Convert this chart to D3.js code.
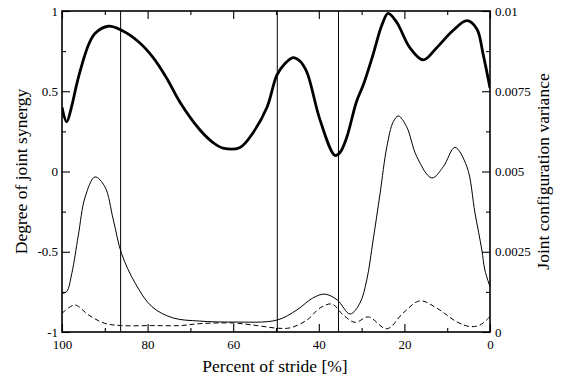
<!DOCTYPE html>
<html>
<head>
<meta charset="utf-8">
<script src="https://cdn.jsdelivr.net/npm/d3@7"></script>
<style>
  body { margin: 0; background: #fff; }
  svg text { font-family: "Liberation Serif", "Times New Roman", Times, "DejaVu Serif", "Noto Serif", serif; }
</style>
</head>
<body>
<svg id="chart" width="569" height="382"></svg>
<script>
// stride values [%] and degree of joint synergy (left axis)
const synergyStride = [100, 98.9, 97.7, 96.6, 95.4, 93.8, 92.3, 89.2, 86.1, 82.2, 78.7, 75.5, 72.4, 67.8, 64.7, 62.4,
  58.4, 55.4, 52.1, 49.8, 48.0, 46.0, 44.5, 42.8, 39.7, 36.2, 35.0, 33.5, 31.2, 29.6, 27.3, 25.3, 23.8, 21.8,
  18.7, 15.6, 12.5, 8.6, 5.4, 3.1, 1.6, 0];
const synergyValue = [0.40, 0.31, 0.41, 0.54, 0.66, 0.79, 0.86, 0.905, 0.88, 0.81, 0.71, 0.58, 0.43, 0.26, 0.18, 0.146,
  0.15, 0.24, 0.40, 0.60, 0.67, 0.71, 0.69, 0.62, 0.32, 0.10, 0.12, 0.21, 0.435, 0.54, 0.73, 0.91, 0.985, 0.93,
  0.77, 0.695, 0.77, 0.88, 0.94, 0.89, 0.73, 0.52];

// joint configuration variance, thin line (right axis)
const varStride = [100, 98.9, 97.7, 96.2, 94.6, 92.3, 90.0, 88.0, 86.1, 82.9, 79.0, 74.1, 67.8, 60.0, 49.8, 45.1,
  41.4, 38.6, 35.7, 32.7, 30.4, 28.8, 27.3, 25.7, 24.1, 22.6, 21.4, 19.5, 17.1, 13.6, 10.9, 8.2, 5.4, 3.5, 1.9, 1.2, 0];
const varValue = [0.0012, 0.00126, 0.00183, 0.0030, 0.0042, 0.00483, 0.00453, 0.00349, 0.00245, 0.00152, 0.00079, 0.00044, 0.00034, 0.00031, 0.00037, 0.00069,
  0.00106, 0.00118, 0.001, 0.00056, 0.0009, 0.00162, 0.00287, 0.0043, 0.00577, 0.00655, 0.00673, 0.0064, 0.00546, 0.0048, 0.00515, 0.00575, 0.00515, 0.0037, 0.00255, 0.00193, 0.00141];

// dashed variance component (right axis)
const dashStride = [100, 97.0, 93.8, 90.0, 86.1, 79.0, 72.4, 67.8, 60.0, 54.4, 49.8, 46.7, 42.8, 39.7, 36.9,
  34.3, 31.5, 28.4, 24.1, 20.3, 16.4, 12.5, 7.8, 4.7, 2.3, 0];
const dashValue = [0.00058, 0.00084, 0.00053, 0.00027, 0.0002, 0.0002, 0.0002, 0.00026, 0.00028, 0.0002, 0.00012, 0.00013, 0.00037, 0.00075, 0.00087,
  0.00053, 0.0003, 0.00047, 0.0001, 0.00059, 0.00097, 0.00075, 0.00032, 0.00017, 0.00022, 0.00048];

// phase markers [% stride]
const phaseLines = [86.3, 49.7, 35.4];

const xTicks = [100, 80, 60, 40, 20, 0];
const xMinor = [90, 70, 50, 30, 10];
const leftTicks = [-1, -0.5, 0, 0.5, 1];
const leftMinor = [-0.75, -0.25, 0.25, 0.75];
const rightTicks = [0, 0.0025, 0.005, 0.0075, 0.01];
const rightMinor = [0.00125, 0.00375, 0.00625, 0.00875];

const FONT = '"Liberation Serif", "Times New Roman", Times, "DejaVu Serif", serif';

const svg = d3.select('#chart');
const margin = { top: 11, right: 79, bottom: 50, left: 62 };
const width = +svg.attr('width') - margin.left - margin.right;
const height = +svg.attr('height') - margin.top - margin.bottom;
const g = svg.append('g').attr('transform', 'translate(' + margin.left + ',' + margin.top + ')');

const x = d3.scaleLinear().domain([100, 0]).range([0, width]);
const yL = d3.scaleLinear().domain([-1, 1]).range([height, 0]);
const yR = d3.scaleLinear().domain([0, 0.01]).range([height, 0]);

const fmtR = d => d === 0 ? '0' : String(d);

function styleAxis(sel) {
  sel.attr('font-family', FONT).attr('font-size', 13);
  sel.select('.domain').remove();
  sel.selectAll('line').attr('stroke', '#000').attr('stroke-width', 1.1);
  sel.selectAll('text').attr('fill', '#000').style('font-family', FONT);
}

// bottom
g.append('g').attr('transform', 'translate(0,' + height + ')')
  .call(d3.axisBottom(x).tickValues(xTicks).tickSize(-8).tickPadding(8).tickFormat(d3.format('d')))
  .call(styleAxis);
g.append('g').attr('transform', 'translate(0,' + height + ')')
  .call(d3.axisBottom(x).tickValues(xMinor).tickSize(-4).tickFormat(''))
  .call(styleAxis);
// top
g.append('g')
  .call(d3.axisTop(x).tickValues(xTicks).tickSize(-8).tickFormat(''))
  .call(styleAxis);
g.append('g')
  .call(d3.axisTop(x).tickValues(xMinor).tickSize(-4).tickFormat(''))
  .call(styleAxis);
// left
g.append('g')
  .call(d3.axisLeft(yL).tickValues(leftTicks).tickSize(-8).tickPadding(4).tickFormat(d => String(d)))
  .call(styleAxis);
g.append('g')
  .call(d3.axisLeft(yL).tickValues(leftMinor).tickSize(-4).tickFormat(''))
  .call(styleAxis);
// right
g.append('g').attr('transform', 'translate(' + width + ',0)')
  .call(d3.axisRight(yR).tickValues(rightTicks).tickSize(-8).tickPadding(5).tickFormat(fmtR))
  .call(styleAxis);
g.append('g').attr('transform', 'translate(' + width + ',0)')
  .call(d3.axisRight(yR).tickValues(rightMinor).tickSize(-4).tickFormat(''))
  .call(styleAxis);

// frame
g.append('rect')
  .attr('width', width).attr('height', height)
  .attr('fill', 'none').attr('stroke', '#000').attr('stroke-width', 1.6);

// phase lines
g.selectAll('.phase')
  .data(phaseLines)
  .enter()
  .append('line')
  .attr('x1', d => x(d)).attr('x2', d => x(d))
  .attr('y1', 0).attr('y2', height)
  .attr('stroke', '#000').attr('stroke-width', 1);

g.append('clipPath').attr('id', 'clip')
  .append('rect').attr('width', width).attr('height', height);

const plot = g.append('g').attr('clip-path', 'url(#clip)');

const lineL = d3.line().x(d => x(d[0])).y(d => yL(d[1])).curve(d3.curveCatmullRom.alpha(0.5));
const lineR = d3.line().x(d => x(d[0])).y(d => yR(d[1])).curve(d3.curveCatmullRom.alpha(0.5));

plot.append('path')
  .datum(d3.zip(dashStride, dashValue))
  .attr('d', lineR)
  .attr('fill', 'none').attr('stroke', '#000').attr('stroke-width', 1)
  .attr('stroke-dasharray', '5,3');

plot.append('path')
  .datum(d3.zip(varStride, varValue))
  .attr('d', lineR)
  .attr('fill', 'none').attr('stroke', '#000').attr('stroke-width', 1);

plot.append('path')
  .datum(d3.zip(synergyStride, synergyValue))
  .attr('d', lineL)
  .attr('fill', 'none').attr('stroke', '#000').attr('stroke-width', 2.8);

// axis titles
svg.append('text')
  .attr('x', margin.left + width / 2 - 1).attr('y', 372)
  .attr('text-anchor', 'middle').attr('font-size', 17.5)
  .style('font-family', FONT)
  .text('Percent of stride [%]');

svg.append('text')
  .attr('transform', 'translate(27,' + (margin.top + height / 2) + ') rotate(-90)')
  .attr('text-anchor', 'middle').attr('font-size', 17.5)
  .style('font-family', FONT)
  .text('Degree of joint synergy');

svg.append('text')
  .attr('transform', 'translate(549,' + (margin.top + height / 2) + ') rotate(-90)')
  .attr('text-anchor', 'middle').attr('font-size', 17.5)
  .style('font-family', FONT)
  .text('Joint configuration variance');
</script>
</body>
</html>
